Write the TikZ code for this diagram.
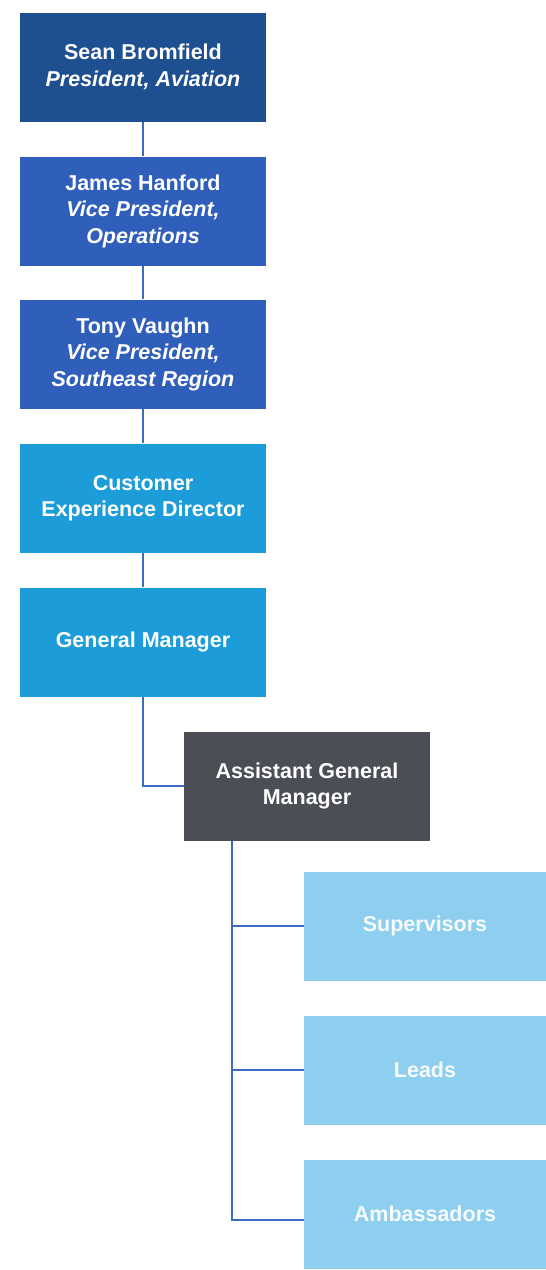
\documentclass[tikz,border=0pt]{standalone}
\usepackage{fontspec}
\setmainfont{Liberation Sans}
\begin{document}
\begin{tikzpicture}[x=1pt,y=-1pt,
  box/.style={minimum width=246pt,minimum height=109pt,inner sep=0pt,
    align=center,text=white,font=\bfseries\fontsize{21.5}{26.5}\selectfont},
  navy/.style={box,fill=navyC},
  royal/.style={box,fill=royalC},
  cyan/.style={box,fill=cyanC},
  slate/.style={box,fill=slateC},
  pale/.style={box,fill=paleC,minimum width=242pt,text=white!92!paleC},
  link/.style={draw=linkC,line width=2.6pt}]
\definecolor{navyC}{HTML}{1E4F90}
\definecolor{royalC}{HTML}{305FBB}
\definecolor{cyanC}{HTML}{1C9CD8}
\definecolor{slateC}{HTML}{4B4E55}
\definecolor{paleC}{HTML}{8ECEEE}
\definecolor{linkC}{HTML}{3B6CC4}
\useasboundingbox[fill=white] (0,0) rectangle (546,1270);

% main chain of command
\node[navy]  (sean)  at (143,67)  {Sean Bromfield\\\itshape President, Aviation};
\node[royal] (james) at (143,211) {James Hanford\\\itshape Vice President,\\\itshape Operations};
\node[royal] (tony)  at (143,354) {Tony Vaughn\\\itshape Vice President,\\\itshape Southeast Region};
\node[cyan]  (ced)   at (143,498) {Customer\\Experience Director};
\node[cyan]  (gm)    at (143,642) {General Manager};
\node[slate] (agm)   at (307,786) {Assistant General\\Manager};

% front-line staff
\node[pale] (sup)   at (425,926)  {Supervisors};
\node[pale] (leads) at (425,1070) {Leads};
\node[pale] (amb)   at (425,1214) {Ambassadors};

% connectors
\draw[link] (sean.south) -- (james.north);
\draw[link] (james.south) -- (tony.north);
\draw[link] (tony.south) -- (ced.north);
\draw[link] (ced.south) -- (gm.north);
\draw[link] (gm.south) |- (agm.west);
\coordinate (spine) at ([xshift=48pt]agm.south west);
\draw[link] (spine) |- (sup.west);
\draw[link] (spine) |- (leads.west);
\draw[link] (spine) |- ([yshift=-6pt]amb.west);
\end{tikzpicture}
\end{document}
